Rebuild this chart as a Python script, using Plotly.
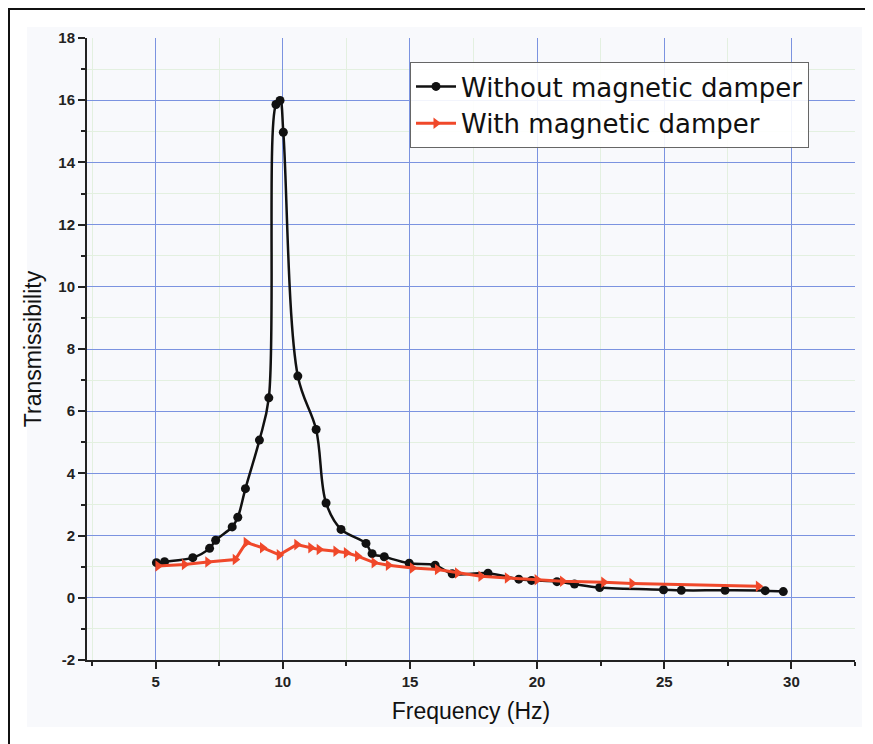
import plotly.graph_objects as go

# Without magnetic damper
freq_without = [5.03, 5.35, 6.46, 7.12, 7.36, 8.01, 8.23, 8.53, 9.08, 9.45, 9.73, 9.89, 10.02,
                10.59, 11.31, 11.70, 12.29, 13.27, 13.51, 13.99, 14.97, 15.99, 16.66, 18.07,
                19.28, 19.78, 20.78, 21.47, 22.46, 24.97, 25.67, 27.39, 28.97, 29.68]
trans_without = [1.13, 1.16, 1.29, 1.59, 1.85, 2.28, 2.59, 3.51, 5.07, 6.43, 15.86, 15.99, 14.97,
                 7.13, 5.41, 3.05, 2.20, 1.75, 1.42, 1.32, 1.11, 1.05, 0.77, 0.79,
                 0.60, 0.56, 0.52, 0.44, 0.33, 0.26, 0.24, 0.24, 0.23, 0.20]

# With magnetic damper
freq_with = [5.09, 6.13, 7.05, 8.13, 8.56, 9.20, 9.86, 10.55, 11.10, 11.43, 12.09, 12.50, 12.94,
             13.59, 14.15, 15.10, 16.08, 16.87, 17.79, 18.83, 20.00, 21.00, 22.62, 23.73, 28.70]
trans_with = [1.02, 1.07, 1.15, 1.23, 1.78, 1.61, 1.38, 1.71, 1.61, 1.55, 1.50, 1.45, 1.34,
              1.13, 1.05, 0.96, 0.91, 0.80, 0.69, 0.64, 0.58, 0.53, 0.50, 0.46, 0.37]

x_ticks = [5, 10, 15, 20, 25, 30]
y_ticks = [-2, 0, 2, 4, 6, 8, 10, 12, 14, 16, 18]

FONT = "Liberation Sans, Arial, sans-serif"
LEGEND_FONT = "DejaVu Sans, Liberation Sans, Arial, sans-serif"

fig = go.Figure()
fig.add_trace(go.Scatter(
    x=freq_without, y=trans_without, mode="lines+markers",
    name="Without magnetic damper",
    line=dict(color="#111111", width=2.5, shape="spline", smoothing=1.0),
    marker=dict(symbol="circle", size=9, color="#111111"),
))
fig.add_trace(go.Scatter(
    x=freq_with, y=trans_with, mode="lines+markers",
    name="With magnetic damper",
    line=dict(color="#f0482a", width=3),
    marker=dict(symbol="triangle-right", size=10, color="#f0482a"),
))

# the page body offsets the figure by 8 px; work in figure pixels
OFF = 8
FW, FH = 873 - OFF, 744 - OFF
L, R, T, B = 87 - OFF, 855 - OFF, 38 - OFF, 660 - OFF
W, H = R - L, B - T
def px(x):
    return (x - OFF - L) / W
def py(y):
    return (B - (y - OFF)) / H

shapes = [
    dict(type="rect", xref="paper", yref="paper", x0=px(27), x1=px(862), y0=py(727), y1=py(27),
         fillcolor="#f8f9fc", line=dict(width=0), layer="below"),
    dict(type="line", xref="paper", yref="paper", x0=px(8.5), x1=px(8.5), y0=py(8.5), y1=py(744),
         line=dict(color="#111111", width=3)),
    dict(type="line", xref="paper", yref="paper", x0=px(8), x1=px(867), y0=py(8.5), y1=py(8.5),
         line=dict(color="#111111", width=3)),
]

fig.update_layout(
    width=FW, height=FH,
    margin=dict(l=L, r=FW - R, t=T, b=FH - B),
    paper_bgcolor="white",
    plot_bgcolor="rgba(0,0,0,0)",
    font=dict(family=FONT, color="#111111"),
    showlegend=True,
    legend=dict(
        x=px(410), y=py(62), xanchor="left", yanchor="top",
        bgcolor="rgba(255,255,255,0.9)", bordercolor="#666666", borderwidth=1,
        font=dict(size=26, family=LEGEND_FONT, color="#111111"),
        itemwidth=40, tracegroupgap=0,
    ),
    shapes=shapes,
)

fig.update_xaxes(
    range=[2.3, 32.5], tickmode="array", tickvals=x_ticks,
    ticktext=[str(v) for v in x_ticks],
    showline=True, linecolor="#222222", linewidth=2,
    ticks="outside", ticklen=7, tickwidth=2, tickcolor="#222222",
    tickfont=dict(size=15, family=FONT, color="#222222", weight="bold"),
    showgrid=True, gridcolor="#7b93e0", gridwidth=1.3,
    zeroline=False,
    minor=dict(tickvals=[2.5, 7.5, 12.5, 17.5, 22.5, 27.5, 32.5], ticks="outside", ticklen=4,
               tickwidth=2, tickcolor="#222222", showgrid=True, gridcolor="#e3f0e0", gridwidth=1),
    title=dict(text="Frequency (Hz)", font=dict(size=23, family=FONT, color="#111111"), standoff=14),
)
fig.update_yaxes(
    range=[-2, 18], tickmode="array", tickvals=y_ticks,
    ticktext=[str(v) for v in y_ticks],
    showline=True, linecolor="#222222", linewidth=2,
    ticks="outside", ticklen=7, tickwidth=2, tickcolor="#222222",
    tickfont=dict(size=15, family=FONT, color="#222222", weight="bold"),
    showgrid=True, gridcolor="#7b93e0", gridwidth=1.3,
    zeroline=False,
    minor=dict(dtick=1, ticks="outside", ticklen=4, tickwidth=2, tickcolor="#222222",
               showgrid=True, gridcolor="#e3f0e0", gridwidth=1),
    title=dict(text="Transmissibility", font=dict(size=23, family=FONT, color="#111111"), standoff=10),
)

fig.write_html("out.html")
